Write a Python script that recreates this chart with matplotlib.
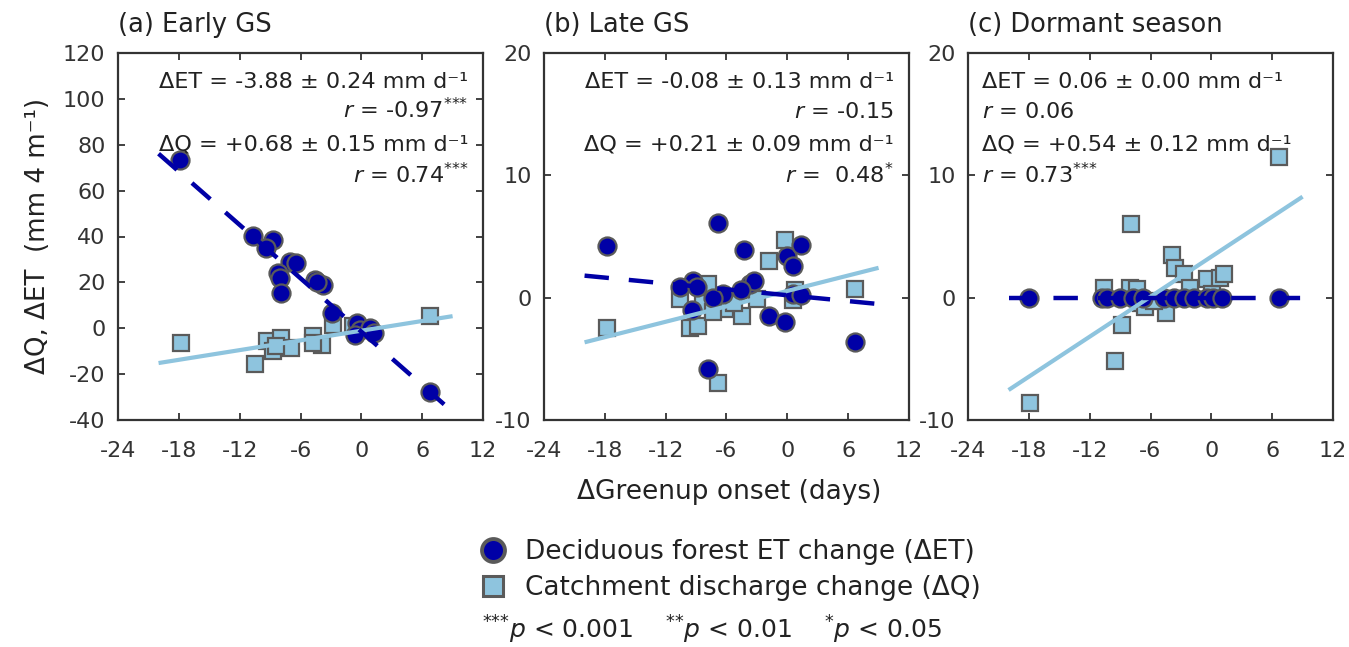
import matplotlib
matplotlib.use("Agg")
import matplotlib.pyplot as plt
from matplotlib.lines import Line2D
import numpy as np

plt.rcParams['font.family'] = ['DejaVu Sans']
plt.rcParams['mathtext.fontset'] = 'dejavusans'
plt.rcParams['axes.unicode_minus'] = False

# ---------------- data ----------------
titles = ["(a) Early GS", "(b) Late GS", "(c) Dormant season"]

# Panel (a)
a_et_x = [-17.9, -10.7, -8.7, -9.4, -7.0, -6.4, -8.2, -8.0, -7.9, -4.6, -3.8, -4.4, -2.9,
          -0.4, -0.1, 0.9, 1.2, -0.6, 6.75]
a_et_y = [73.5, 40.3, 38.5, 35.0, 29.0, 28.3, 24.0, 21.8, 15.2, 21.0, 18.9, 20.0, 6.5,
          2.5, -0.7, 0.0, -2.2, -3.0, -28.0]
a_q_x = [-17.8, -10.5, -9.35, -8.7, -7.9, -6.9, -8.4, -4.75, -3.9, -2.8, -4.75, 6.75, -0.8, 0.2]
a_q_y = [-6.4, -15.8, -5.7, -10.0, -4.2, -8.6, -7.8, -3.5, -7.1, 1.6, -6.4, 5.2, 0.9, -0.6]

# Panel (b)
b_et_x = [-17.8, -6.8, -4.3, 0.0, 1.3, 0.6, -7.8, 6.7, -1.8, -0.2, -9.3, -10.6, -8.9,
          -3.7, -3.3, -4.6, -6.3, -7.3, -9.4, 0.6, 1.3]
b_et_y = [4.2, 6.1, 3.9, 3.4, 4.3, 2.6, -5.8, -3.6, -1.5, -2.0, 1.4, 0.9, 0.9,
          1.1, 1.4, 0.6, 0.3, 0.0, -1.0, 0.3, 0.2]
b_q_x = [-17.8, -10.6, -9.6, -8.8, -7.8, -8.3, -6.8, -4.5, -6.1, -5.3, -1.8, -0.2, 0.6, 0.8,
         6.7, -3.0, -7.3]
b_q_y = [-2.5, -0.1, -2.5, -2.3, 1.1, -0.4, -7.0, -1.5, -0.9, -0.4, 3.0, 4.7, -0.2, 0.6,
         0.7, -0.1, -1.2]

# Panel (c)
c_et_x = [-18.0, -10.8, -10.3, -9.0, -7.7, -6.7, -4.7, -3.7, -2.7, -1.7, -0.4, 0.2, 1.1, 6.7]
c_et_y = [0.0] * 14
c_q_x = [-17.9, 6.7, -7.9, -9.5, -8.8, -10.6, -8.0, -7.3, -6.9, -6.5, -4.5, -3.9, -3.6,
         -2.7, -2.1, -0.4, 0.1, 0.9, 1.2, -5.7]
c_q_y = [-8.6, 11.5, 6.0, -5.2, -2.2, 0.8, 0.8, 0.7, -0.4, -0.8, -1.25, 3.5, 2.4,
         1.9, 0.8, 1.5, 0.3, 1.6, 1.9, -0.3]

# Fitted lines (slope, intercept)
fit_x = [-20.0, 9.0]
et_fit = [(-3.88, -1.5), (-0.08, 0.2), (0.0, 0.0)]
q_fit = [(0.705, -1.07), (0.21, 0.55), (0.545, 3.35)]

STARS3 = r"$^{{*}{*}{*}}$"
STARS1 = r"$^{{*}}$"
annotations = [
    ["ΔET = -3.88 ± 0.24 mm d⁻¹", r"$\it{r}$ = -0.97" + STARS3,
     "ΔQ = +0.68 ± 0.15 mm d⁻¹", r"$\it{r}$ = 0.74" + STARS3],
    ["ΔET = -0.08 ± 0.13 mm d⁻¹", r"$\it{r}$ = -0.15",
     "ΔQ = +0.21 ± 0.09 mm d⁻¹", r"$\it{r}$ =  0.48" + STARS1],
    ["ΔET = 0.06 ± 0.00 mm d⁻¹", r"$\it{r}$ = 0.06",
     "ΔQ = +0.54 ± 0.12 mm d⁻¹", r"$\it{r}$ = 0.73" + STARS3],
]
ylabel = "ΔQ, ΔET  (mm 4 m⁻¹)"
xlabel = "ΔGreenup onset (days)"
legend_labels = ["Deciduous forest ET change (ΔET)", "Catchment discharge change (ΔQ)"]
pnote = (r"$^{{*}{*}{*}}$$\it{p}$ < 0.001    $^{{*}{*}}$$\it{p}$ < 0.01    "
         r"$^{{*}}$$\it{p}$ < 0.05")

xticks = [-24, -18, -12, -6, 0, 6, 12]
ylims = [(-40, 120), (-10, 20), (-10, 20)]
yticks = [list(range(-40, 121, 20)), [-10, 0, 10, 20], [-10, 0, 10, 20]]

et_data = [(a_et_x, a_et_y), (b_et_x, b_et_y), (c_et_x, c_et_y)]
q_data = [(a_q_x, a_q_y), (b_q_x, b_q_y), (c_q_x, c_q_y)]

# ---------------- style ----------------
dark_blue = '#0000A6'
light_blue = '#8EC4DE'
edge_grey = '#5A5A5A'
text_col = '#222222'

fig = plt.figure(figsize=(13.49, 6.47), dpi=100)
lefts = [118 / 1349, 544 / 1349, 968 / 1349]
bottom = 1 - 420 / 647
w = 365 / 1349
h = 367 / 647

ann_y = [0.905, 0.823, 0.733, 0.646]

for i in range(3):
    ax = fig.add_axes([lefts[i], bottom, w, h])
    qx, qy = q_data[i]
    ex, ey = et_data[i]
    ax.plot(qx, qy, linestyle='none', marker='s', ms=12, mfc=light_blue,
            mec=edge_grey, mew=1.6, zorder=2)
    ax.plot(ex, ey, linestyle='none', marker='o', ms=13, mfc=dark_blue,
            mec=edge_grey, mew=1.6, zorder=3)
    fx = np.array(fit_x)
    s, b0 = q_fit[i]
    ax.plot(fx, s * fx + b0, color=light_blue, lw=3, zorder=4, solid_capstyle='butt')
    s, b0 = et_fit[i]
    ax.plot(fx, s * fx + b0, color=dark_blue, lw=3.2, linestyle=(0, (5.5, 4.5)),
            zorder=5, dash_capstyle='butt')

    ax.set_xlim(-24, 12)
    ax.set_ylim(*ylims[i])
    ax.set_xticks(xticks)
    ax.set_yticks(yticks[i])
    ax.tick_params(direction='in', top=True, right=True, length=5, width=1.3,
                   labelsize=16, colors='#333333', labelcolor='#333333')
    ax.tick_params(axis='x', pad=15)
    ax.tick_params(axis='y', pad=9)
    for sp in ax.spines.values():
        sp.set_linewidth(1.6)
        sp.set_color('#333333')

    ax.text(0.0, 1.057, titles[i], transform=ax.transAxes, ha='left', va='baseline',
            fontsize=18.5, color=text_col)

    for j, t in enumerate(annotations[i]):
        if i < 2:
            ax.text(0.959, ann_y[j], t, transform=ax.transAxes, ha='right', va='baseline',
                    fontsize=16.1, color=text_col)
        else:
            ax.text(0.038, ann_y[j], t, transform=ax.transAxes, ha='left', va='baseline',
                    fontsize=16.1, color=text_col)

fig.text(38 / 1349, 1 - 236 / 647, ylabel, rotation=90, ha='center', va='center',
         fontsize=18.8, color=text_col)
fig.text(729 / 1349, 1 - 492 / 647, xlabel, ha='center', va='center',
         fontsize=19, color=text_col)

handles = [
    Line2D([], [], linestyle='none', marker='o', ms=16.5, mfc=dark_blue, mec=edge_grey,
           mew=2.8),
    Line2D([], [], linestyle='none', marker='s', ms=14.5, mfc=light_blue, mec=edge_grey,
           mew=2.2),
]
leg = fig.legend(handles, legend_labels, loc='center left',
                 bbox_to_anchor=(480 / 1349, 1 - 570 / 647),
                 frameon=False, fontsize=19, handletextpad=0.71, labelspacing=0.38,
                 handlelength=1.0, borderpad=0, borderaxespad=0)
for t in leg.get_texts():
    t.set_color(text_col)

fig.text(482 / 1349, 1 - 630 / 647, pnote, ha='left', va='center', fontsize=18,
         color=text_col)

fig.savefig("out.png", dpi=100, facecolor='white')
